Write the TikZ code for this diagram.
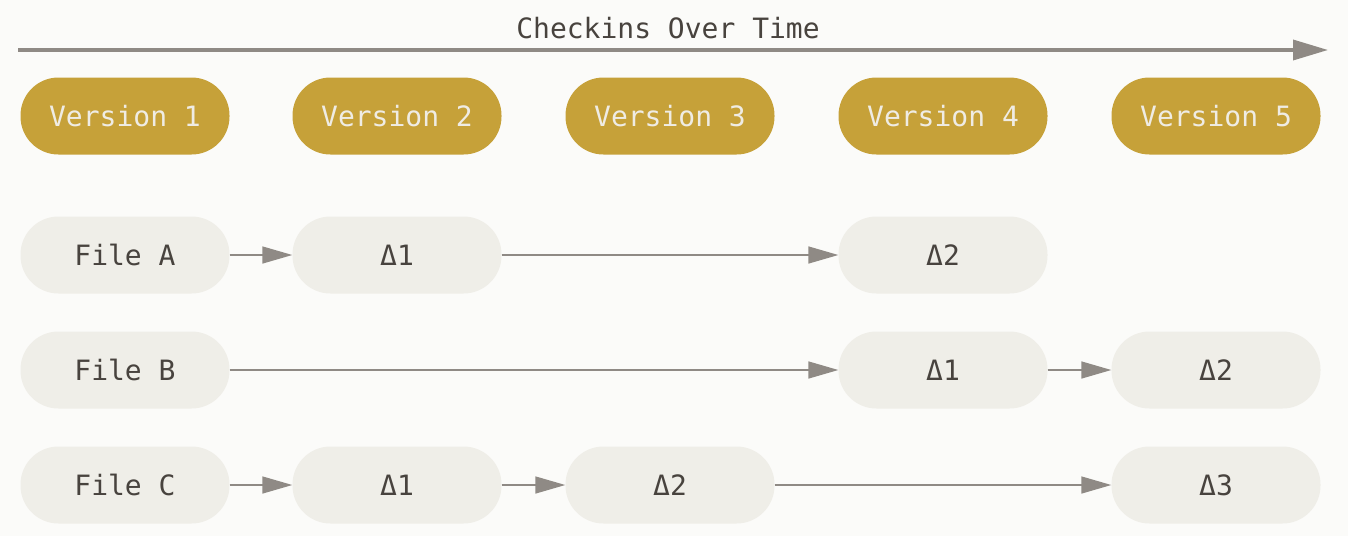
\documentclass[tikz,border=0pt]{standalone}
\usepackage{fontspec}
\setmonofont{DejaVu Sans Mono}
\usetikzlibrary{arrows.meta}
\definecolor{bg}{HTML}{FBFBF9}
\definecolor{gold}{HTML}{C6A139}
\definecolor{goldtext}{HTML}{EFECE4}
\definecolor{filebox}{HTML}{EFEEE8}
\definecolor{filetext}{HTML}{48433E}
\definecolor{arrowgray}{HTML}{8F8A85}
\tikzset{
  pill/.style={rectangle, rounded corners=38pt, minimum width=209pt, minimum height=77pt, inner sep=0pt,
    font=\fontsize{28}{31}\selectfont\ttfamily},
  version/.style={pill, fill=gold, text=goldtext},
  filenode/.style={pill, fill=filebox, text=filetext},
  link/.style={draw=arrowgray, line width=1.5pt, -{Triangle[length=30pt,width=17pt]}},
  timeline/.style={draw=arrowgray, line width=3.5pt, -{Triangle[length=35pt,width=20pt]}},
}
\begin{document}
\begin{tikzpicture}[x=1pt,y=-1pt]
\fill[bg] (0,0) rectangle (1348,536);
\useasboundingbox (0,0) rectangle (1348,536);
\coordinate (tl0) at (18,50);
\coordinate (tl1) at (1328,50);
\draw[timeline] (tl0) -- (tl1);
\node[font=\fontsize{28}{31}\selectfont\ttfamily, text=filetext] (title) at (668,28) {Checkins Over Time};
\foreach \i/\x in {1/125,2/397,3/670,4/943,5/1216}{
  \node[version] (v\i) at (\x,116) {Version \i};
}
\node[filenode] (fa) at (125,255) {File A};
\node[filenode] (a1) at (397,255) {Δ1};
\node[filenode] (a2) at (943,255) {Δ2};
\node[filenode] (fb) at (125,370) {File B};
\node[filenode] (b1) at (943,370) {Δ1};
\node[filenode] (b2) at (1216,370) {Δ2};
\node[filenode] (fc) at (125,485) {File C};
\node[filenode] (c1) at (397,485) {Δ1};
\node[filenode] (c2) at (670,485) {Δ2};
\node[filenode] (c3) at (1216,485) {Δ3};
\draw[link] (fa) -- (a1);
\draw[link] (a1) -- (a2);
\draw[link] (fb) -- (b1);
\draw[link] (b1) -- (b2);
\draw[link] (fc) -- (c1);
\draw[link] (c1) -- (c2);
\draw[link] (c2) -- (c3);
\end{tikzpicture}
\end{document}
